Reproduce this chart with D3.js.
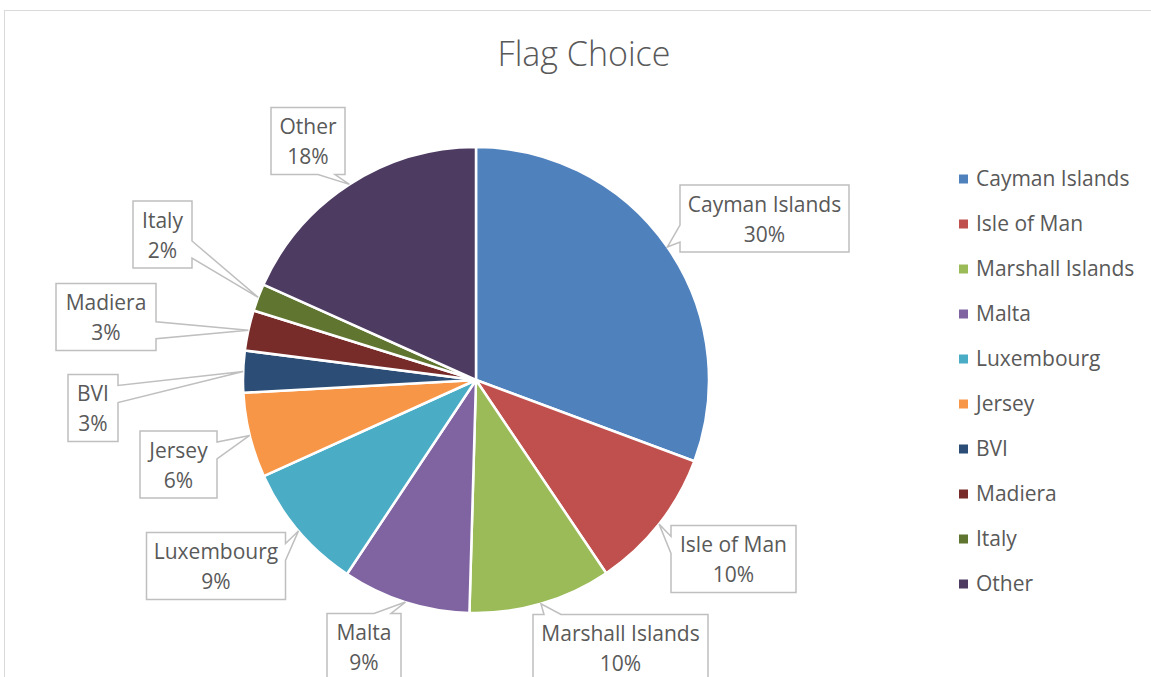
<!DOCTYPE html>
<html><head><meta charset="utf-8">
<script src="https://cdn.jsdelivr.net/npm/d3@7"></script>
<style>html,body{margin:0;padding:0;background:#fff;}svg{display:block;}</style>
</head><body>
<svg id="chart" width="1151" height="677"></svg>
<script>
// ---- data ----
const categories = ["Cayman Islands","Isle of Man","Marshall Islands","Malta","Luxembourg","Jersey","BVI","Madiera","Italy","Other"];
const values = [30.7, 9.9, 9.9, 8.9, 8.9, 5.9, 2.9, 2.8, 1.9, 18.3];
const percentLabels = ["30%","10%","10%","9%","9%","6%","3%","3%","2%","18%"];
const colors = ["#4F81BD","#C0504D","#9BBB59","#8064A2","#4BACC6","#F79646","#2C4D75","#772C2A","#5F7530","#4D3B62"];
// ---- layout: label box centre x, centre y, width ----
const labelBoxes = [[764.5,218.5,169],[733.5,559,125],[620.5,648,175],[364,647,74],[216,566,139],[178.5,464.5,77],[93,408,50],[106,317,100],[162.5,234.5,59],[308,141,74]];

const svg = d3.select("#chart");
const FONT = "'Open Sans', Lato, sans-serif";
const TXT = "#595959";

// chart border
svg.append("rect").attr("x",4.5).attr("y",10.5).attr("width",1300).attr("height",1000)
  .attr("fill","none").attr("stroke","#d9d9d9").attr("stroke-width",1);

// title
svg.append("text").attr("x",584).attr("y",66).attr("text-anchor","middle")
  .attr("font-family",FONT).attr("font-size",34).attr("font-weight",300).attr("fill",TXT).text("Flag Choice");

const cx = 476, cy = 380, R = 233;
const g = svg.append("g").attr("transform",`translate(${cx},${cy})`);
const pie = d3.pie().sort(null).value(d=>d);
const arcs = pie(values);
const arc = d3.arc().innerRadius(0).outerRadius(R);
const edge = d3.arc().innerRadius(R).outerRadius(R);

g.selectAll("path.slice").data(arcs).join("path").attr("class","slice")
  .attr("d",arc).attr("fill",(d,i)=>colors[i]).attr("stroke","#fff").attr("stroke-width",2.5).attr("stroke-linejoin","round");

// labels
const fs = 21;
const lg = svg.append("g");
const clamp = (v,lo,hi)=>Math.max(lo,Math.min(hi,v));
arcs.forEach((a,i)=>{
  const [tx0,ty0] = edge.centroid(a);
  const tx = tx0+cx, ty = ty0+cy;
  const [bx,by,w] = labelBoxes[i];
  const h = 67;
  const L = bx-w/2, Rr = bx+w/2, T = by-h/2, B = by+h/2;
  let side;
  if (tx < L-8) side = "left"; else if (tx > Rr+8) side = "right"; else side = ty < by ? "top" : "bottom";
  const bw = 17;
  let pts;
  if (side==="left"||side==="right") {
    const c = clamp(ty, T+11+bw/2, B-10-bw/2);
    const x = side==="left"?L:Rr;
    const p1=[x,c-bw/2], p2=[x,c+bw/2];
    if (side==="left") pts=[[L,T],[Rr,T],[Rr,B],[L,B],p2,[tx,ty],p1];
    else pts=[[L,T],[Rr,T],p1,[tx,ty],p2,[Rr,B],[L,B]];
  } else {
    const c = clamp(tx, L+11+bw/2, Rr-10-bw/2);
    const y = side==="top"?T:B;
    const p1=[c-bw/2,y], p2=[c+bw/2,y];
    if (side==="top") pts=[[L,T],p1,[tx,ty],p2,[Rr,T],[Rr,B],[L,B]];
    else pts=[[L,T],[Rr,T],[Rr,B],p2,[tx,ty],p1,[L,B]];
  }
  const tg = lg.append("g");
  tg.append("path").attr("d","M"+pts.map(p=>p.join(",")).join("L")+"Z")
    .attr("fill","#fff").attr("stroke","#bfbfbf").attr("stroke-width",1.5);
  tg.append("text").attr("x",bx).attr("y",by-14).attr("dy","0.35em").attr("text-anchor","middle")
    .attr("font-family",FONT).attr("font-size",fs).attr("fill",TXT).text(categories[i]);
  tg.append("text").attr("x",bx).attr("y",by+16).attr("dy","0.35em").attr("text-anchor","middle")
    .attr("font-family",FONT).attr("font-size",fs).attr("fill",TXT).text(percentLabels[i]);
});

// legend
const leg = svg.append("g");
categories.forEach((c,i)=>{
  const y = 179 + i*45;
  leg.append("rect").attr("x",959).attr("y",y-4.5).attr("width",9).attr("height",9).attr("fill",colors[i]);
  leg.append("text").attr("x",976).attr("y",y).attr("dy","0.35em").attr("font-family",FONT).attr("font-size",fs).attr("fill",TXT).text(c);
});
</script>
</body></html>
